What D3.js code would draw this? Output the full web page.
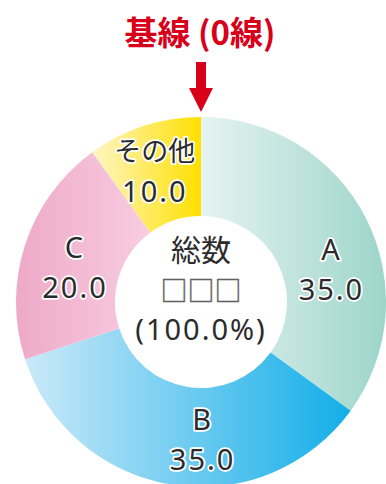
<!DOCTYPE html>
<html>
<head>
<meta charset="utf-8">
<script src="https://cdn.jsdelivr.net/npm/d3@7"></script>
<style>
  body { margin: 0; background: #fff; }
  text { font-family: "Noto Sans CJK JP", "Noto Sans", sans-serif; }
  text.latin { font-family: "Noto Sans", "Noto Sans CJK JP", sans-serif; }
</style>
</head>
<body>
<div id="chart"></div>
<script>
var categories = ["A", "B", "C", "その他"];
var values = [35.0, 35.0, 20.0, 10.0];
var valueLabels = ["35.0", "35.0", "20.0", "10.0"];
var centerLines = ["総数", "□□□", "(100.0%)"];
var title = "基線 (0線)";

// gradient stops per slice: [left colour, right colour]
var sliceColors = [
  ["#e6f3f1", "#9dd5ca"],
  ["#cbe9f9", "#12aee8"],
  ["#eeaac8", "#f8cde0"],
  ["#fff6c4", "#ffe000"]
];

var width = 386;
var height = 484;
var cx = 201, cy = 302;
var outerR = 185, innerR = 86;

var svg = d3.select("#chart")
            .append("svg")
            .attr("width", width)
            .attr("height", height);

var defs = svg.append("defs");

var pie = d3.pie().sort(null).value(function(d) { return d; });
var arcs = pie(values);

var arc = d3.arc().innerRadius(innerR).outerRadius(outerR);

var group = svg.append("g")
               .attr("transform", "translate(" + cx + "," + cy + ")");

arcs.forEach(function(a, i) {
  // horizontal gradient across each slice's bounding box
  var g = defs.append("linearGradient")
              .attr("id", "grad" + i)
              .attr("x1", "0%").attr("x2", "100%")
              .attr("y1", "0%").attr("y2", "0%");
  g.append("stop").attr("offset", "0%").attr("stop-color", sliceColors[i][0]);
  g.append("stop").attr("offset", "100%").attr("stop-color", sliceColors[i][1]);
});

group.selectAll("path.slice")
     .data(arcs)
     .enter()
       .append("path")
       .attr("class", "slice")
       .attr("d", arc)
       .attr("fill", function(d, i) { return "url(#grad" + i + ")"; });

// label positions: centroid of a ring between inner and outer radius, nudged
var labelArc = d3.arc().innerRadius(innerR + 20).outerRadius(outerR - 5);
var labelOffsets = [[3, 43], [24, 7], [10, 20], [-2, 16]];

function haloText(sel) {
  sel.attr("class", "latin")
     .attr("fill", "#2b2b2b")
     .attr("stroke", "#fff")
     .attr("stroke-width", 3.5)
     .attr("stroke-linejoin", "round")
     .attr("paint-order", "stroke")
     .attr("text-anchor", "middle")
     .attr("font-size", 29)
     .attr("letter-spacing", 2);
}

arcs.forEach(function(a, i) {
  var c = labelArc.centroid(a);
  var x = c[0] + labelOffsets[i][0];
  var y = c[1] + labelOffsets[i][1];
  var name = group.append("text")
       .attr("x", x)
       .attr("y", y - 20)
       .text(categories[i])
       .call(haloText);
  if (i == 3) name.attr("class", null).attr("font-size", 27).attr("letter-spacing", 0).attr("y", y - 21);
  group.append("text")
       .attr("x", x)
       .attr("y", y + 20)
       .text(valueLabels[i])
       .call(haloText);
});

// centre text
var centerY = [-41, -1, 38];
var centerSize = [30, 27, 29];
centerLines.forEach(function(s, i) {
  group.append("text")
       .attr("class", i == 2 ? "latin" : null)
       .attr("x", 0)
       .attr("y", centerY[i])
       .attr("font-size", centerSize[i])
       .attr("letter-spacing", i == 2 ? 2 : 0)
       .attr("fill", i == 1 ? "#606060" : "#2b2b2b")
       .attr("stroke", i == 1 ? "#606060" : null)
       .attr("stroke-width", i == 1 ? 0.4 : null)
       .attr("text-anchor", "middle")
       .text(s);
});

// title + arrow pointing at the 0 line
svg.append("text")
   .attr("x", 200)
   .attr("y", 45)
   .attr("text-anchor", "middle")
   .attr("font-size", 33)
   .attr("font-weight", "bold")
   .attr("fill", "#d9001a")
   .text(title);

svg.append("path")
   .attr("d", "M" + (cx - 5) + ",62 h10 v26 h7 L" + cx + ",112 L" + (cx - 12) + ",88 h7 Z")
   .attr("fill", "#d9001a");
</script>
</body>
</html>
